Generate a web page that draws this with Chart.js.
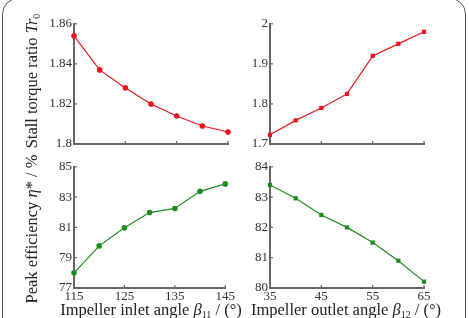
<!DOCTYPE html>
<html>
<head>
<meta charset="utf-8">
<script src="https://cdn.jsdelivr.net/npm/chart.js@4"></script>
<style>
  body { margin: 0; background: #fff; }
  #fig { position: relative; width: 469px; height: 318px; overflow: hidden; background: #fff; font-family: "Liberation Serif", "DejaVu Serif", serif; color: #222; }
  #frame { position: absolute; left: 2px; top: -2px; width: 462px; height: 340px; border: 1.3px solid #555; border-radius: 16px; }
  .cv { position: absolute; }
  .ytitle { position: absolute; font-size: 16.5px; white-space: nowrap; transform: translate(-50%, -50%) rotate(-90deg); }
  .xtitle { position: absolute; font-size: 16.5px; white-space: nowrap; transform: translate(-50%, -50%); }
  sub { font-size: 10px; vertical-align: -3px; }
</style>
</head>
<body>
<div id="fig">
  <div id="frame"></div>
  <div class="cv" style="left:34px;top:14px;width:202px;height:146px"><canvas id="c1"></canvas></div>
  <div class="cv" style="left:230px;top:14px;width:202px;height:146px"><canvas id="c2"></canvas></div>
  <div class="cv" style="left:34px;top:157px;width:202px;height:147px"><canvas id="c3"></canvas></div>
  <div class="cv" style="left:230px;top:157px;width:202px;height:147px"><canvas id="c4"></canvas></div>
  <div class="ytitle" style="left:32px;top:81px">Stall torque ratio <i>Tr</i><sub>0</sub></div>
  <div class="ytitle" style="left:32px;top:229px">Peak efficiency <i>η</i>* / %</div>
  <div class="xtitle" style="left:151px;top:310px">Impeller inlet angle <i>β</i><sub>11</sub> / (°)</div>
  <div class="xtitle" style="left:346px;top:310px">Impeller outlet angle <i>β</i><sub>12</sub> / (°)</div>
</div>
<script>
// inlet angle panels (left)
const inletAngles = [115, 120, 125, 130, 135, 140, 145];
const inletTicks = [115, 125, 135, 145];
const inletTorque = [1.854, 1.837, 1.828, 1.820, 1.814, 1.809, 1.806];
const inletTorqueTicks = [1.8, 1.82, 1.84, 1.86];
const inletEff = [78.0, 79.78, 80.97, 81.98, 82.25, 83.38, 83.87];
const inletEffTicks = [77, 79, 81, 83, 85];

// outlet angle panels (right)
const outletAngles = [35, 40, 45, 50, 55, 60, 65];
const outletTicks = [35, 45, 55, 65];
const outletTorque = [1.723, 1.759, 1.790, 1.825, 1.920, 1.950, 1.980];
const outletTorqueTicks = [1.7, 1.8, 1.9, 2];
const outletEff = [83.40, 82.96, 82.41, 82.0, 81.5, 80.9, 80.21];
const outletEffTicks = [80, 81, 82, 83, 84];

const red = '#e8141e';
const green = '#1e8c1e';
const axisCol = '#666';
const tickFont = { family: '"Liberation Serif"', size: 13 };

// small inward tick marks like the original
const innerTicks = {
    id: 'innerTicks',
    afterDraw(chart) {
        const c = chart.ctx;
        const a = chart.chartArea;
        c.save();
        c.strokeStyle = axisCol;
        c.lineWidth = 1.2;
        const xs = chart.scales.x, ys = chart.scales.y;
        xs.ticks.forEach((t, i) => {
            const px = xs.getPixelForTick(i);
            c.beginPath(); c.moveTo(px, a.bottom); c.lineTo(px, a.bottom - 3); c.stroke();
        });
        ys.ticks.forEach((t, i) => {
            const py = ys.getPixelForTick(i);
            c.beginPath(); c.moveTo(a.left - 1, py); c.lineTo(a.left + 3, py); c.stroke();
        });
        c.restore();
    }
};

function makeChart(id, xs, ys, xTicks, yTicks, color, shape, showX) {
    const pts = xs.map((x, i) => ({ x: x, y: ys[i] }));
    return new Chart(document.getElementById(id), {
        type: 'line',
        data: {
            datasets: [{
                data: pts,
                borderColor: color,
                backgroundColor: color,
                borderWidth: 1.2,
                pointStyle: shape,
                pointRadius: shape == 'rect' ? 3 : 2.8,
                pointBorderWidth: 0,
                tension: 0,
                clip: false
            }]
        },
        options: {
            responsive: true,
            maintainAspectRatio: false,
            animation: false,
            events: [],
            layout: { padding: { top: 9, right: 8, left: 0, bottom: 0 } },
            plugins: { legend: { display: false }, tooltip: { enabled: false } },
            scales: {
                x: {
                    type: 'linear',
                    min: xTicks[0],
                    max: xTicks[xTicks.length - 1],
                    afterBuildTicks: s => { s.ticks = xTicks.map(v => ({ value: v })); },
                    afterFit: s => { s.height = 16; },
                    grid: { display: false, drawTicks: false },
                    border: { display: true, color: axisCol, width: 2 },
                    ticks: {
                        display: showX,
                        padding: 1,
                        maxRotation: 0,
                        color: '#333',
                        font: tickFont,
                        callback: v => String(v)
                    }
                },
                y: {
                    min: yTicks[0],
                    max: yTicks[yTicks.length - 1],
                    afterBuildTicks: s => { s.ticks = yTicks.map(v => ({ value: v })); },
                    afterFit: s => { s.width = 40; },
                    grid: { display: false, drawTicks: false },
                    border: { display: true, color: axisCol, width: 2 },
                    ticks: {
                        padding: 2,
                        color: '#333',
                        font: tickFont,
                        callback: v => String(Math.round(v * 100) / 100)
                    }
                }
            }
        },
        plugins: [innerTicks]
    });
}

function drawAll() {
    makeChart('c1', inletAngles, inletTorque, inletTicks, inletTorqueTicks, red, 'circle', false);
    makeChart('c2', outletAngles, outletTorque, outletTicks, outletTorqueTicks, red, 'rect', false);
    makeChart('c3', inletAngles, inletEff, inletTicks, inletEffTicks, green, 'circle', true);
    makeChart('c4', outletAngles, outletEff, outletTicks, outletEffTicks, green, 'rect', true);
}

document.fonts.load('13px "Liberation Serif"').then(drawAll, drawAll);
</script>
</body>
</html>
